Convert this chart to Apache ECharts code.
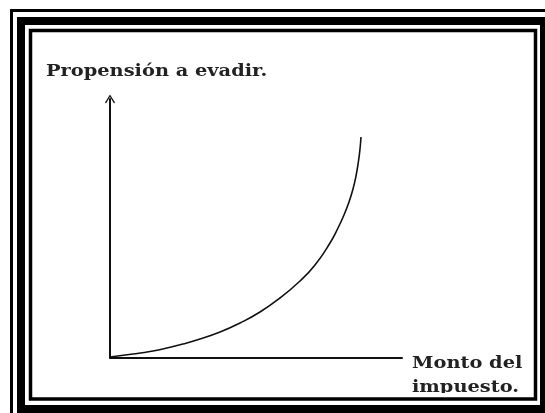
<!DOCTYPE html>
<html>

<head>
    <meta charset="utf-8">
    <title>Propensión a evadir</title>
    <script src="https://cdn.jsdelivr.net/npm/echarts@6.0.0/dist/echarts.min.js"></script>
    <style>
        html, body { margin: 0; padding: 0; background: #fff; }
    </style>
</head>

<body>
    <div id="myChart" style="width: 545px; height: 413px;"></div>

    <script>
        // curve (x = tax amount, y = propensity), arbitrary units
        const montoImpuesto = [0, 23, 40, 57, 73, 90, 110, 130, 150, 170, 190, 205, 220, 228, 234, 239, 243, 246, 248.5, 250, 251];
        const propension = [1, 4, 6.5, 10, 14, 19, 26, 35, 46, 60, 77, 93, 115, 130, 143, 156, 169, 182, 197, 209, 221];

        const yTitle = 'Propensión a evadir.';
        const xTitle = ['Monto del', 'impuesto.'];

        const curve = montoImpuesto.map((x, i) => [x, propension[i]]);

        const chartDom = document.getElementById('myChart');
        const myChart = echarts.init(chartDom);

        const labelFont = 'bold 17px "DejaVu Serif", "Liberation Serif", serif';

        const option = {
            animation: false,
            backgroundColor: '#fff',
            grid: { left: 110, right: 143, top: 99, bottom: 55 },
            xAxis: {
                type: 'value',
                min: 0,
                max: 292,
                axisLine: { show: true, lineStyle: { color: '#111', width: 2 } },
                axisTick: { show: false },
                axisLabel: { show: false },
                splitLine: { show: false }
            },
            yAxis: {
                type: 'value',
                min: 0,
                max: 259,
                axisLine: {
                    show: true,
                    lineStyle: { color: '#111', width: 2 },
                    symbol: ['none', 'path://M0,8 L5,0 L10,8 L9,9 L5,2.2 L1,9 Z'],
                    symbolSize: [17, 9]
                },
                axisTick: { show: false },
                axisLabel: { show: false },
                splitLine: { show: false }
            },
            series: [{
                type: 'line',
                data: curve,
                smooth: 0.5,
                showSymbol: false,
                lineStyle: { color: '#111', width: 1.6 }
            }],
            graphic: [
                {
                    type: 'text', x: 46, y: 63, scaleX: 1.14, z: 10,
                    style: { text: yTitle, font: labelFont, fill: '#222' }
                },
                {
                    type: 'text', x: 412, y: 352, scaleX: 1.14, z: 10,
                    style: { text: xTitle.join('\n'), font: labelFont, fill: '#222', lineHeight: 24 }
                },
                // framed border: outer thin, thick, inner thin
                {
                    type: 'rect', z: 20, silent: true,
                    shape: { x: 11.5, y: 10.5, width: 560, height: 430 },
                    style: { fill: null, stroke: '#000', lineWidth: 3 }
                },
                {
                    type: 'rect', z: 20, silent: true,
                    shape: { x: 21, y: 21, width: 523, height: 388 },
                    style: { fill: null, stroke: '#000', lineWidth: 8 }
                },
                {
                    type: 'rect', z: 20, silent: true,
                    shape: { x: 30.5, y: 30.5, width: 505, height: 368.5 },
                    style: { fill: null, stroke: '#000', lineWidth: 3.5 }
                },
                // white strip below the inner frame hides the overflowing label
                {
                    type: 'rect', z: 15, silent: true,
                    shape: { x: 33, y: 393, width: 500, height: 5 },
                    style: { fill: '#fff' }
                }
            ]
        };

        myChart.setOption(option);
    </script>
</body>

</html>
